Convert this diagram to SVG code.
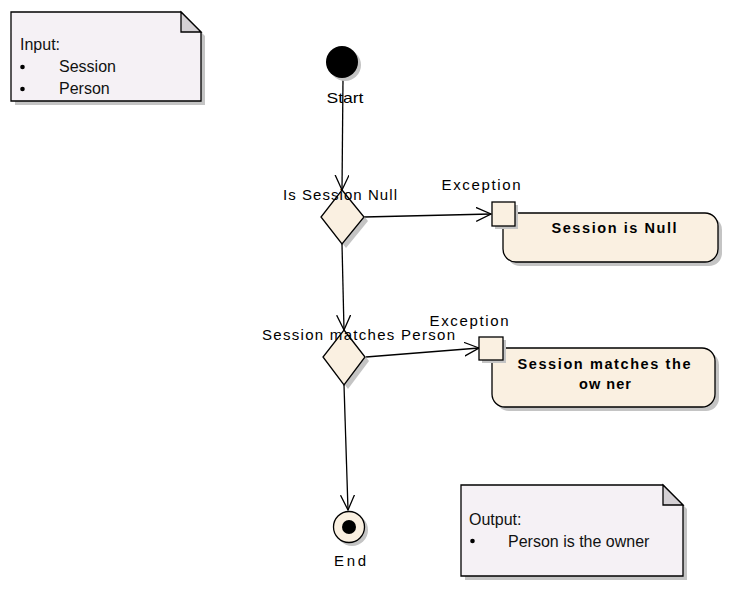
<svg xmlns="http://www.w3.org/2000/svg" width="739" height="597" viewBox="0 0 739 597">
<style>
.lbl{font-family:"Liberation Sans",Arial,sans-serif;font-size:15px;fill:#000}
.act{font-family:"Liberation Sans",Arial,sans-serif;font-size:14.5px;font-weight:bold;fill:#000}
.note{font-family:"Liberation Sans",Arial,sans-serif;font-size:16px;fill:#111}
.shadow{fill:#c4c4c4;stroke:none}
.nf{fill:#f5f1f5;stroke:#000;stroke-width:1.3}
.fold{fill:#d4d0d4;stroke:#000;stroke-width:1.3}
.af{fill:#faf0e1;stroke:#000;stroke-width:1.3}
.edge{fill:none;stroke:#000;stroke-width:1.3}
</style>
<defs>
<marker id="arr" markerUnits="userSpaceOnUse" markerWidth="18" markerHeight="16" refX="15" refY="7" orient="auto">
<path d="M0,0 L15,7 L0,14" fill="none" stroke="#000" stroke-width="1.3"/>
</marker>
</defs>

<g id="note-input">
<path class="shadow" d="M15,16 H185 L205,36 V105 H15 Z"/>
<path class="nf" d="M11,12 H181 L201,32 V101 H11 Z"/>
<path class="fold" d="M181,12 V32 H201 Z"/>
<text class="note" x="20" y="50">Input:</text>
<circle cx="22.5" cy="67" r="2.3" fill="#000"/>
<text class="note" x="59" y="72">Session</text>
<circle cx="22.5" cy="89" r="2.3" fill="#000"/>
<text class="note" x="59" y="94">Person</text>
</g>

<g id="note-output">
<path class="shadow" d="M465,489 H667 L687,509 V580 H465 Z"/>
<path class="nf" d="M461,485 H663 L683,505 V576 H461 Z"/>
<path class="fold" d="M663,485 V505 H683 Z"/>
<text class="note" x="469" y="525">Output:</text>
<circle cx="472.5" cy="541" r="2.3" fill="#000"/>
<text class="note" x="508" y="547">Person is the owner</text>
</g>

<g id="connectors">
<path class="edge" d="M343,78 L342,190" marker-end="url(#arr)"/>
<path class="edge" d="M364,217 L491,214" marker-end="url(#arr)"/>
<path class="edge" d="M342,244 L344,330" marker-end="url(#arr)"/>
<path class="edge" d="M366,357 L479,348" marker-end="url(#arr)"/>
<path class="edge" d="M344,385 L348,510" marker-end="url(#arr)"/>
</g>

<g id="start">
<circle class="shadow" cx="345" cy="65" r="16"/>
<circle cx="342" cy="62" r="16" fill="#000"/>
<text class="lbl" x="345" y="103" text-anchor="middle" textLength="37" lengthAdjust="spacingAndGlyphs">Start</text>
</g>

<g id="decision-null">
<path class="shadow" d="M346,194 L368,221 L346,248 L325,221 Z"/>
<path class="af" d="M342,190 L364,217 L342,244 L321,217 Z"/>
<text class="lbl" x="283" y="200" textLength="114" lengthAdjust="spacing">Is Session Null</text>
</g>

<g id="exception-null">
<text class="lbl" x="481" y="190" text-anchor="middle" textLength="79" lengthAdjust="spacing">Exception</text>
<rect class="shadow" x="507" y="217" width="215" height="49" rx="13"/>
<rect class="af" x="503" y="213" width="215" height="49" rx="13"/>
<rect class="shadow" x="495" y="205" width="23" height="24"/>
<rect class="af" x="492" y="202" width="23" height="24"/>
<text class="act" x="614" y="233" text-anchor="middle" textLength="125" lengthAdjust="spacing">Session is Null</text>
</g>

<g id="decision-owner">
<path class="shadow" d="M348,334 L369,361 L348,389 L327,361 Z"/>
<path class="af" d="M344,330 L365,357 L344,385 L323,357 Z"/>
<text class="lbl" x="262" y="340" textLength="193" lengthAdjust="spacing">Session matches Person</text>
</g>

<g id="exception-owner">
<text class="lbl" x="469" y="326" text-anchor="middle" textLength="79" lengthAdjust="spacing">Exception</text>
<rect class="shadow" x="496" y="352" width="223" height="59" rx="13"/>
<rect class="af" x="492" y="348" width="223" height="59" rx="13"/>
<rect class="shadow" x="482" y="340" width="24" height="23"/>
<rect class="af" x="479" y="337" width="24" height="23"/>
<text class="act" x="604" y="369" text-anchor="middle" textLength="173" lengthAdjust="spacing">Session matches the</text>
<text class="act" x="605" y="389" text-anchor="middle" textLength="52" lengthAdjust="spacing">ow ner</text>
</g>

<g id="end">
<circle class="shadow" cx="352" cy="530" r="16"/>
<circle class="af" cx="349" cy="527" r="15.5"/>
<circle cx="349" cy="527" r="7" fill="#000"/>
<text class="lbl" x="350" y="566" text-anchor="middle" textLength="32" lengthAdjust="spacing">End</text>
</g>
</svg>
